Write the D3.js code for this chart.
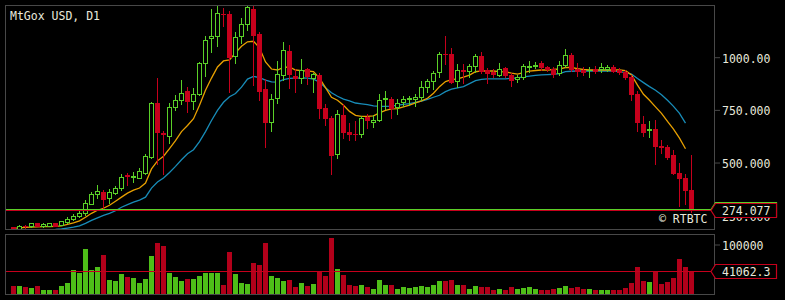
<!DOCTYPE html>
<html><head><meta charset="utf-8">
<script src="https://cdn.jsdelivr.net/npm/d3@7"></script>
<style>
html,body{margin:0;padding:0;background:#000;}
svg{display:block;}
text{font-family:"DejaVu Sans Mono",monospace;}
</style></head><body>
<svg id="c" width="785" height="300"></svg>
<script>
// ---- data ----
const title = "MtGox USD, D1";
const watermark = "\u00A9 RTBTC";
const opens = [192.1,184.0,199.3,196.9,211.2,196.9,200.2,211.2,205.1,217.4,231.8,245.9,259.1,303.7,348.7,359.7,332.4,356.4,377.4,441.1,431,428.2,452.1,524.0,784.5,640.8,626.4,763.4,798.8,838.6,792.1,825.7,971.3,1089.1,1098.6,1207,1205.9,1006.2,1098.6,1158.0,1229.9,1110.1,846.7,693.5,808.4,913.8,1028.7,909.0,899.4,942.5,899.4,913.8,760.5,712.6,540.2,727.0,645.6,637,636.0,717.4,693.5,703.1,802,803.6,765.3,789.3,802,801.7,811.3,856.3,885.1,928.1,1016,1014.4,885.1,937.7,932.9,956.9,1006.2,937.7,931.0,916.7,947.3,915.2,894.7,904.2,955,960,972.7,953.5,942.5,923.4,961.7,1009.6,945.4,937.7,937,942.5,942.5,942.5,952.1,937.7,929.6,904.2,827.6,683.9,655,659.9,578.6,573.8,535.4,449.2,425.3,367.9];
const highs = [194.5,203.1,205.1,214.6,212.7,214.6,213.6,212.7,224.2,240,255.7,272.0,320.0,358,393.2,370.7,372.6,388.5,444.4,449.2,455.5,473.2,540.2,787.3,900.9,651.8,784.5,819.4,891.3,856.3,853,979,1098.6,1226.5,1245.7,1234.7,1218.4,1117.8,1186.8,1245.7,1245.7,1117.8,894.7,827.6,982.3,1069.9,1057.5,942.5,990.4,947.3,926.2,926.2,779.7,718.9,747.6,776.3,688.7,698.3,722.2,731.8,723.7,827.6,838.6,811.3,803.6,818.0,814.6,827.6,887.9,894.7,935.8,1026.8,1098.6,1043.1,966.5,967.9,967.9,1014.4,1026.8,947.3,942.5,974.1,955.0,926.2,915.2,967.9,982.3,977.5,983.7,959.8,955.0,980.8,1038.3,1019.1,971.3,955.0,955.0,958,971.3,961.7,963,947.3,939.2,913.8,837.2,722.2,696.4,699.7,607.3,584.8,559.4,498.6,444.4,535.4];
const lows = [176,176.3,188.8,195.5,197,193.5,198.3,198.3,201.7,214.6,227,243,252.6,301,332.4,284.5,310,351.5,367.9,393.2,407.6,425.3,447.3,521.1,492.3,447.3,591.0,747.6,779.7,739.5,752.4,819.4,910.4,1026.8,1050.8,1149.9,835.3,974.1,1067.0,1130.7,867.4,798.8,571.9,648.5,782.6,891.3,854.4,835.3,875.5,872.1,835.3,712.6,677.2,447.3,521.1,616.9,607.3,607.3,623.1,664.8,667.6,696.4,755.7,712.6,731.8,766.8,771.5,766.8,798.8,833.8,846.7,904.2,967.9,875.5,856.3,875.5,907.1,931.0,923.4,878.3,904.2,910.4,904.2,862.6,883.1,897.5,931.0,947.3,939.2,935.8,904.2,913.8,955.0,935.8,910.4,916.7,907.1,923.4,931.0,932.9,929.6,920.0,897.5,798.8,648.5,627.9,619.7,495.2,543.1,516.3,444.4,296.0,303.7,265.3];
const closes = [177.7,200.2,196.9,211.2,198.3,208.0,211.2,200.2,220.8,233.5,247.8,262.5,307.0,351.5,364.5,327.6,359.7,378.9,431.5,434.9,434,460.3,528.8,784.5,645.6,634.1,763.4,798.8,832.4,792.1,827.6,971.3,1082.8,1102.0,1210.7,1205,1002.9,1095.8,1158.0,1239.4,1105.3,841.9,693.5,803.6,918.6,1033.5,918.6,899.4,937.7,909.0,918.6,760.5,712.6,535.4,731.8,645.6,636.0,635,712.6,703.1,703.1,798.8,804,760.5,784.5,803.6,804,813.2,856.3,885.1,923.4,1014.4,1014,880.3,937.7,932.9,956.9,1004.8,935.8,923.4,918.6,942.5,913.8,891.3,904.2,956.9,958,962,952.1,943.9,918.6,961.7,1009.6,942.5,932.9,928.1,939,934.4,952.1,952.1,932.9,928.1,904.2,827.6,693.5,645.6,658,578.6,571.9,525.9,449.2,425.3,367.9,274.077];
const volumes = [9300,9300,7100,5000,9300,700,700,700,9300,15800,43800,37400,89200,43800,50300,76200,22200,20100,35200,28700,26600,15800,24400,74100,102200,95700,37400,28700,20100,24400,24400,30900,37400,37400,37400,11400,82700,35200,15800,13600,59000,54600,102200,30900,26600,20100,22200,7100,15800,9300,13600,39500,30900,115100,46000,33000,11400,9300,11400,7100,2800,22200,11400,11400,2800,7100,5000,7100,9300,7100,11400,20100,20100,22200,11400,11400,2800,9300,7100,7100,700,2800,700,7100,2800,5000,7100,2800,700,300,2800,5000,9300,5000,7100,2800,2800,700,700,300,300,700,5000,15800,50300,20100,17900,39500,13600,17900,26600,67600,50300,41062.3];
const maFast = [188.8,190,192,193,194.5,195.5,196.4,196.9,199.3,206.5,213.6,223.2,240,259,273.5,283,297.4,316.6,335.8,354.9,369,378.9,402.8,469.9,508,529.7,565.6,603.9,647,675.8,707.9,771.5,843.4,900.9,953.5,982.3,987,1020.6,1051.7,1073.3,1075.7,1044.5,977.5,943.9,939.2,952.1,953.5,939.2,935.8,934.4,932,900.9,855.4,809.9,795.5,771.5,742.8,723.7,718.9,718.9,721.3,735.6,747.6,754.8,755.7,764.4,772.5,783.5,793.1,805.1,829,860.2,884.1,893.7,897.5,905.7,915.2,931,935.3,934.4,934.4,932,930.5,924.8,920,927.2,934.4,936.8,939.2,939.2,941.6,943.9,951.1,951.1,945.4,941.6,939.2,939.2,939.2,939.2,939.2,939.2,936.8,915.2,867.4,824.2,795.5,764.4,733.7,694.9,659,615.9,565.6];
const maSlow = [169.6,173,175.3,177.7,178.7,180.1,181.6,182.5,185,188.8,193,199.3,211.2,225.6,237.6,249.5,259.1,271.1,287.8,299.9,311.8,321.4,335.8,378.9,407.6,426.8,453.1,481.8,513,541.7,560.8,599.1,647,699.7,747.6,786,812.3,827.6,857.8,896.1,909,903.3,891.3,883.1,881.7,893.7,899.4,900.9,902.3,900.9,896.1,881.7,855.4,831.4,814.6,801.2,793.1,782.6,778.8,774.9,769.2,766.8,766.8,768.2,772.5,776.3,779.7,786,792.1,800.3,809.9,819.4,836.2,848.2,853.9,860.2,874.5,888.9,894.7,897,897.5,897.5,897.5,899.9,902.3,906.6,910.4,913.8,916.2,917.6,919.1,922.4,932,933.4,934.4,934.4,934.4,934.4,934.4,934.4,934.4,932,927.2,920,898.5,879.3,860.2,843.4,821.8,795.5,766.8,733.7,686.8];
const priceTicks = [250,500,750,1000];
const volumeTicks = [100000];
const lastBid = 274.077;
const lastAsk = 279.0;
const lastVolume = 41062.3;

// ---- styles ----
const GREEN = "rgb(90,208,40)", RED = "rgb(198,0,28)";
const VGREEN = "rgb(78,190,24)", VRED = "rgb(178,0,26)";
const TXT = "rgb(232,232,220)", BORDER = "rgb(72,72,72)";
const ORANGE = "rgb(232,160,0)", BLUE = "rgb(24,140,184)";

const svg = d3.select("#c");
svg.append("rect").attr("width",785).attr("height",300).attr("fill","#000");

const n = closes.length;
const idx = d3.range(n);
const x = d3.scaleLinear().domain([0, n-1]).range([13, 691]);
const yP = d3.scaleLinear().domain([250, 1000]).range([215.2, 57.2]);
const yV = d3.scaleLinear().domain([0, 100000]).range([290.3, 244.5]);

const P = {x:5.5, y:5.5, w:709, h:224};
const V = {x:5.5, y:234.5, w:709, h:60};

const defs = svg.append("defs");
defs.append("clipPath").attr("id","cp").append("rect").attr("x",6).attr("y",6).attr("width",708).attr("height",223);
defs.append("clipPath").attr("id","cv").append("rect").attr("x",6).attr("y",235).attr("width",708).attr("height",59);

// panels
svg.append("rect").attr("x",P.x).attr("y",P.y).attr("width",P.w).attr("height",P.h).attr("fill","none").attr("stroke",BORDER);
svg.append("rect").attr("x",V.x).attr("y",V.y).attr("width",V.w).attr("height",V.h).attr("fill","none").attr("stroke",BORDER);

// axes
const fmt = d3.format(".6r");
const gpa = svg.append("g").attr("transform","translate(714,0)")
  .call(d3.axisRight(yP).tickValues(priceTicks).tickSize(6).tickPadding(2).tickFormat(fmt));
const gva = svg.append("g").attr("transform","translate(714,0)")
  .call(d3.axisRight(yV).tickValues(volumeTicks).tickSize(6).tickPadding(2).tickFormat(fmt));
[gpa,gva].forEach(g=>{
  g.select(".domain").remove();
  g.selectAll("line").attr("stroke",BORDER);
  g.selectAll("text").attr("fill",TXT).attr("font-size","11.5px").attr("font-family","DejaVu Sans Mono").attr("dy","0.42em");
});

// price panel content
const pc = svg.append("g").attr("clip-path","url(#cp)");
const line = d3.line().x((d,i)=>x(i)+0.5).y(d=>yP(d));
pc.append("path").attr("d",line(maSlow)).attr("fill","none").attr("stroke",BLUE).attr("stroke-width",1.3);
pc.append("path").attr("d",line(maFast)).attr("fill","none").attr("stroke",ORANGE).attr("stroke-width",1.3);

const cg = pc.append("g").attr("shape-rendering","crispEdges");
idx.forEach(i=>{
  const cx = Math.round(x(i));
  const bull = closes[i] >= opens[i];
  const col = bull ? GREEN : RED;
  cg.append("line").attr("x1",cx+0.5).attr("x2",cx+0.5)
    .attr("y1",Math.round(yP(highs[i]))).attr("y2",Math.round(yP(lows[i]))+1)
    .attr("stroke",col).attr("stroke-width",1);
  const t = Math.round(yP(Math.max(opens[i],closes[i])));
  const b = Math.round(yP(Math.min(opens[i],closes[i])));
  if (b - t < 1) {
    cg.append("rect").attr("x",cx-2).attr("y",t).attr("width",5).attr("height",1).attr("fill",col);
  } else if (bull) {
    cg.append("rect").attr("x",cx-1.5).attr("y",t+0.5).attr("width",4).attr("height",b-t)
      .attr("fill","#000").attr("stroke",col).attr("stroke-width",1);
  } else {
    cg.append("rect").attr("x",cx-2).attr("y",t).attr("width",5).attr("height",b-t+1).attr("fill",col);
  }
});

// bid / ask lines
const yAsk = Math.floor(yP(lastAsk))+0.5, yBid = Math.floor(yP(lastBid))+0.5;
svg.append("line").attr("x1",6).attr("x2",711).attr("y1",yAsk).attr("y2",yAsk).attr("stroke",GREEN);
svg.append("line").attr("x1",6).attr("x2",711).attr("y1",yBid).attr("y2",yBid).attr("stroke",RED);

svg.append("text").attr("x",659).attr("y",223).attr("fill",TXT).attr("font-size","11.5px").text(watermark);

// volume panel
const vg = svg.append("g").attr("clip-path","url(#cv)").attr("shape-rendering","crispEdges");
idx.forEach(i=>{
  const cx = Math.round(x(i));
  const bull = closes[i] >= opens[i];
  const top = Math.round(yV(volumes[i]));
  vg.append("rect").attr("x",cx-2).attr("y",top).attr("width",5).attr("height",294.5-top)
    .attr("fill",bull?VGREEN:VRED);
});
const yVl = Math.floor(yV(lastVolume))+0.5;
svg.append("line").attr("x1",6).attr("x2",711).attr("y1",yVl).attr("y2",yVl).attr("stroke",RED);

// value labels
function tag(yc, color, fill){
  const p = `M711,${yc} L715.5,${yc-7} L776.5,${yc-7} L776.5,${yc+7} L715.5,${yc+7} Z`;
  svg.append("path").attr("d",p).attr("fill",fill).attr("stroke",color).attr("stroke-width",1.2);
}
tag(yAsk-0.0, GREEN, "#000");
tag(yBid, RED, "#000");
svg.append("text").attr("x",722).attr("y",yBid).attr("dy","0.38em").attr("fill",TXT).attr("font-size","11.5px").text(fmt(lastBid));
tag(yVl, RED, "#000");
svg.append("text").attr("x",722).attr("y",yVl).attr("dy","0.38em").attr("fill",TXT).attr("font-size","11.5px").text(fmt(lastVolume));

// title
svg.append("text").attr("x",10).attr("y",19.5).attr("fill",TXT).attr("font-size","11.5px").text(title);
</script>
</body></html>
